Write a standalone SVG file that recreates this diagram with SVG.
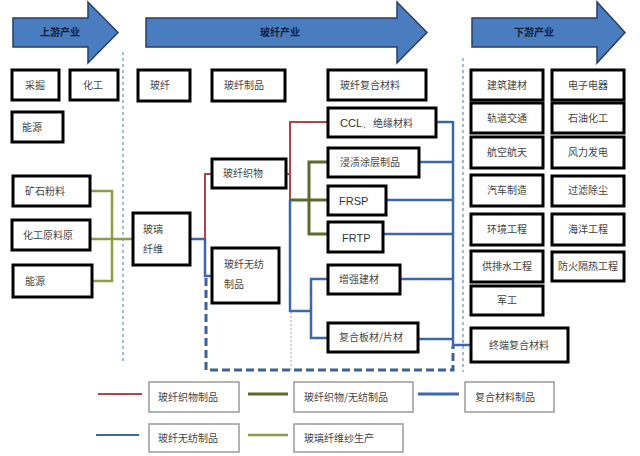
<svg xmlns="http://www.w3.org/2000/svg" width="640" height="456" viewBox="0 0 640 456">
<style>
.arrow{fill:#4a7cc0;stroke:#263f66;stroke-width:1.5}
.at{font-family:"Noto Sans CJK SC",sans-serif;font-size:10px;font-weight:bold;fill:#15203a}
.box rect{fill:#fff;stroke:#000;stroke-width:3}
.t{font-family:"Noto Sans CJK SC",sans-serif;font-size:10px;fill:#444}
.e{font-family:"Liberation Sans",sans-serif;font-size:11px;fill:#333}
.c{text-anchor:middle}
.leg rect{fill:#fff;stroke:#9a9a9a;stroke-width:1.5}
.sep{stroke:#4a78b8;stroke-width:1;stroke-dasharray:3 3;fill:none}
.yg{stroke:#8c9c48;stroke-width:2.5;fill:none}
.bl{stroke:#3d67ab;stroke-width:2.5;fill:none}
.rd{stroke:#b0444c;stroke-width:2;fill:none}
.dg{stroke:#5b6b2b;stroke-width:3;fill:none}
.dash{stroke:#3d5f9e;stroke-width:3;stroke-dasharray:8 4;fill:none}
.dot{stroke:#9aa5b5;stroke-width:1;stroke-dasharray:2 2;fill:none}
</style>
<g id="arrows">
<path class="arrow" d="M13,18 H88 V2 L118,32.5 L88,63 V47 H13 Z"/>
<text class="at" x="40" y="36">上游产业</text>
<path class="arrow" d="M146,18 H397 V2 L427,32.5 L397,63 V47 H146 Z"/>
<text class="at c" x="280" y="36">玻纤产业</text>
<path class="arrow" d="M472,18 H597 V2 L625,32.5 L597,63 V47 H472 Z"/>
<text class="at c" x="534" y="36">下游产业</text>
</g>
<g id="separators">
<line class="sep" x1="123" y1="52" x2="123" y2="362"/>
<line class="sep" x1="463" y1="58" x2="463" y2="372"/>
</g>
<g id="connectors">
<polyline class="yg" points="90,191 112,191 112,281 92,281"/>
<line class="yg" x1="90" y1="239" x2="133" y2="239"/>
<polyline class="dash" points="206,278 206,370 453,370 453,346"/>
<line class="dot" x1="291" y1="312" x2="291" y2="370"/>
<polyline class="bl" points="190,239 205,239 205,276 212,276"/>
<polyline class="rd" points="205,239 205,174 212,174"/>
<line class="rd" x1="286" y1="174" x2="290" y2="174"/>
<polyline class="rd" points="290,200 290,122 328,122"/>
<line class="dg" x1="290" y1="200" x2="328" y2="200"/>
<polyline class="dg" points="328,162 309,162 309,234 328,234"/>
<polyline class="bl" points="290,200 290,311 311,311"/>
<polyline class="bl" points="328,279 311,279 311,338 328,338"/>
<line class="bl" x1="436" y1="122" x2="453" y2="122"/>
<line class="bl" x1="453" y1="121" x2="453" y2="348"/>
<line class="bl" x1="419" y1="162" x2="453" y2="162"/>
<line class="bl" x1="386" y1="200" x2="453" y2="200"/>
<line class="bl" x1="383" y1="234" x2="453" y2="234"/>
<line class="bl" x1="400" y1="279" x2="453" y2="279"/>
<line class="bl" x1="418" y1="339" x2="453" y2="339"/>
<line class="bl" x1="453" y1="345" x2="471" y2="345"/>
</g>
<g id="n-caijue" class="box"><rect x="12" y="70" width="47" height="30"/><text class="t" x="25" y="89">采掘</text></g>
<g id="n-huagong" class="box"><rect x="70" y="70" width="48" height="30"/><text class="t" x="83" y="89">化工</text></g>
<g id="n-nengyuan1" class="box"><rect x="12" y="112" width="51" height="30"/><text class="t" x="22" y="131">能源</text></g>
<g id="n-kuangshi" class="box"><rect x="13" y="176" width="77" height="30"/><text class="t" x="25" y="195">矿石粉料</text></g>
<g id="n-huagongyuanliao" class="box"><rect x="12" y="220" width="78" height="30"/><text class="t" x="23" y="239">化工原料原</text></g>
<g id="n-nengyuan2" class="box"><rect x="13" y="265" width="79" height="32"/><text class="t" x="25" y="285">能源</text></g>
<g id="n-boliqianwei" class="box"><rect x="133" y="213" width="57" height="52"/><text class="t" x="143" y="233">玻璃</text><text class="t" x="143" y="253">纤维</text></g>
<g id="h-boqian" class="box"><rect x="138" y="70" width="52" height="31"/><text class="t" x="150" y="89">玻纤</text></g>
<g id="h-boqianzhipin" class="box"><rect x="212" y="70" width="73" height="31"/><text class="t" x="224" y="89">玻纤制品</text></g>
<g id="h-fuhecailiao" class="box"><rect x="328" y="70" width="98" height="30"/><text class="t" x="340" y="89">玻纤复合材料</text></g>
<g id="n-zhiwu" class="box"><rect x="212" y="159" width="74" height="29"/><text class="t" x="223" y="177">玻纤织物</text></g>
<g id="n-wufang" class="box"><rect x="212" y="248" width="67" height="55"/><text class="t" x="224" y="268">玻纤无纺</text><text class="t" x="224" y="288">制品</text></g>
<g id="n-ccl" class="box"><rect x="328" y="108" width="108" height="29"/><text class="e" x="340" y="127">CCL、<tspan class="t">绝缘材料</tspan></text></g>
<g id="n-jinzi" class="box"><rect x="328" y="148" width="91" height="29"/><text class="t" x="340" y="166">浸渍涂层制品</text></g>
<g id="n-frsp" class="box"><rect x="328" y="186" width="58" height="29"/><text class="e" x="339" y="205">FRSP</text></g>
<g id="n-frtp" class="box"><rect x="328" y="222" width="55" height="30"/><text class="e" x="342" y="242">FRTP</text></g>
<g id="n-zengqiang" class="box"><rect x="328" y="265" width="72" height="29"/><text class="t" x="339" y="283">增强建材</text></g>
<g id="n-fuheban" class="box"><rect x="328" y="323" width="90" height="29"/><text class="t" x="339" y="341">复合板材/片材</text></g>
<g id="d-jianzhu" class="box"><rect x="471" y="70" width="72" height="30"/><text class="t c" x="507" y="89">建筑建材</text></g>
<g id="d-dianzi" class="box"><rect x="552" y="70" width="72" height="30"/><text class="t c" x="588" y="89">电子电器</text></g>
<g id="d-guidao" class="box"><rect x="471" y="103" width="72" height="30"/><text class="t c" x="507" y="122">轨道交通</text></g>
<g id="d-shiyou" class="box"><rect x="552" y="103" width="72" height="30"/><text class="t c" x="588" y="122">石油化工</text></g>
<g id="d-hangkong" class="box"><rect x="471" y="137" width="72" height="31"/><text class="t c" x="507" y="156">航空航天</text></g>
<g id="d-fengli" class="box"><rect x="552" y="137" width="72" height="31"/><text class="t c" x="588" y="156">风力发电</text></g>
<g id="d-qiche" class="box"><rect x="471" y="175" width="72" height="31"/><text class="t c" x="507" y="194">汽车制造</text></g>
<g id="d-guolv" class="box"><rect x="552" y="176" width="72" height="30"/><text class="t c" x="588" y="194">过滤除尘</text></g>
<g id="d-huanjing" class="box"><rect x="471" y="214" width="72" height="31"/><text class="t c" x="507" y="233">环境工程</text></g>
<g id="d-haiyang" class="box"><rect x="552" y="214" width="72" height="31"/><text class="t c" x="588" y="233">海洋工程</text></g>
<g id="d-gongpai" class="box"><rect x="471" y="251" width="72" height="31"/><text class="t c" x="507" y="270">供排水工程</text></g>
<g id="d-fanghuo" class="box"><rect x="552" y="252" width="72" height="29"/><text class="t c" x="588" y="270">防火隔热工程</text></g>
<g id="d-jungong" class="box"><rect x="471" y="286" width="72" height="29"/><text class="t c" x="507" y="304">军工</text></g>
<g id="d-zhongduan" class="box"><rect x="471" y="328" width="97" height="34"/><text class="t c" x="519" y="349">终端复合材料</text></g>
<g id="legend" class="leg">
<line class="rd" x1="98" y1="394" x2="142" y2="394"/>
<rect x="149" y="382" width="90" height="30"/><text class="t" x="158" y="401">玻纤织物制品</text>
<line class="dg" x1="248" y1="394" x2="288" y2="394"/>
<rect x="294" y="382" width="119" height="30"/><text class="t" x="304" y="401">玻纤织物/无纺制品</text>
<line class="bl" x1="418" y1="394" x2="459" y2="394" style="stroke-width:3"/>
<rect x="465" y="382" width="89" height="30"/><text class="t" x="475" y="401">复合材料制品</text>
<line class="bl" x1="96" y1="435" x2="139" y2="435" style="stroke-width:2"/>
<rect x="149" y="424" width="90" height="28"/><text class="t" x="158" y="442">玻纤无纺制品</text>
<line class="yg" x1="248" y1="435" x2="288" y2="435"/>
<rect x="294" y="424" width="109" height="28"/><text class="t" x="304" y="442">玻璃纤维纱生产</text>
</g>
</svg>
